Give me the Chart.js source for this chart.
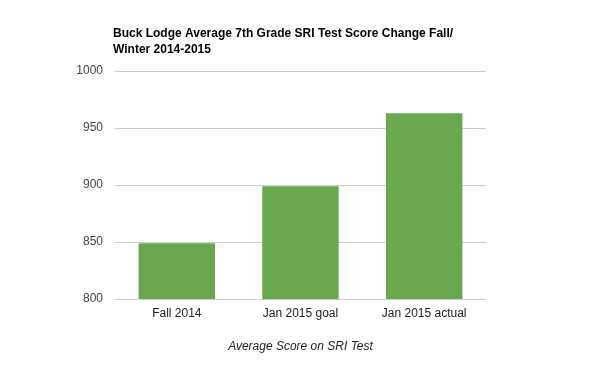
<!DOCTYPE html>
<html>
<head>
<meta charset="utf-8">
<script src="https://cdn.jsdelivr.net/npm/chart.js@4/dist/chart.umd.min.js"></script>
<style>
  html, body { margin: 0; padding: 0; background: #fff; }
  #wrap { width: 600px; height: 371px; position: relative; }
</style>
</head>
<body>
<div id="wrap"><canvas id="c" width="600" height="371"></canvas></div>
<script>
const categories = ["Fall 2014", "Jan 2015 goal", "Jan 2015 actual"];
const scores = [849, 899, 963];
const yTicks = [800, 850, 900, 950, 1000];
const titleLines = ["Buck Lodge Average 7th Grade SRI Test Score Change Fall/", "Winter 2014-2015"];
const xAxisTitle = "Average Score on SRI Test";

const titlePlugin = {
  id: 'leftTitle',
  afterDraw(chart) {
    const ctx = chart.ctx;
    ctx.save();
    ctx.font = 'bold 12px "Liberation Sans", Arial, sans-serif';
    ctx.fillStyle = '#000';
    ctx.textBaseline = 'alphabetic';
    ctx.textAlign = 'left';
    titleLines.forEach((t, i) => ctx.fillText(t, 113, 37 + i * 15.5));
    ctx.restore();
  }
};

new Chart(document.getElementById('c'), {
  type: 'bar',
  data: {
    labels: categories,
    datasets: [{
      data: scores,
      backgroundColor: '#6aa84f',
      borderWidth: 0,
      categoryPercentage: 0.618,
      barPercentage: 1.0
    }]
  },
  options: {
    responsive: false,
    animation: false,
    layout: { padding: { top: 71, right: 114, left: 0, bottom: 0 } },
    plugins: { legend: { display: false }, tooltip: { enabled: false }, title: { display: false } },
    scales: {
      x: {
        grid: { display: false, drawTicks: false },
        border: { display: false },
        ticks: { color: '#222', font: { family: '"Liberation Sans", Arial, sans-serif', size: 12 }, padding: 7 },
        title: {
          display: true, text: xAxisTitle, color: '#222',
          font: { family: '"Liberation Sans", Arial, sans-serif', size: 12, style: 'italic' },
          padding: { top: 0, bottom: 17 }
        },
        afterFit(scale) { scale.height = 72; }
      },
      y: {
        min: yTicks[0], max: yTicks[yTicks.length - 1],
        afterBuildTicks(scale) { scale.ticks = yTicks.map(v => ({ value: v })); },
        grid: { color: '#cccccc', lineWidth: 1, drawTicks: false },
        border: { display: false },
        ticks: {
          color: '#444', font: { family: '"Liberation Sans", Arial, sans-serif', size: 12 }, padding: 12,
          callback: (v) => String(v)
        },
        afterFit(scale) { scale.width = 115; }
      }
    }
  },
  plugins: [titlePlugin]
});
</script>
</body>
</html>
